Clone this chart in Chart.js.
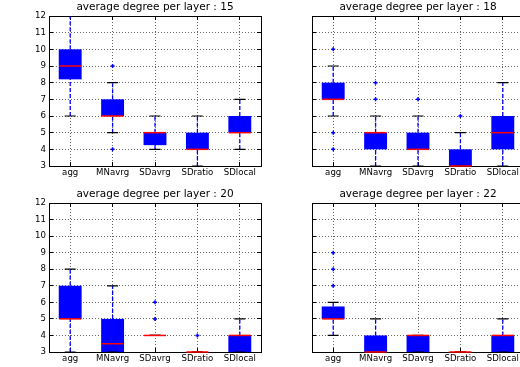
<!DOCTYPE html>
<html><head><meta charset="utf-8">
<script src="https://cdn.jsdelivr.net/npm/chart.js@4/dist/chart.umd.min.js"></script>
<style>
html,body{margin:0;padding:0;overflow:hidden;background:#fff;width:520px;height:367px;position:relative}
canvas{position:absolute}
</style></head><body>
<canvas id="c0" width="310" height="183" style="left:0px;top:0px"></canvas>
<canvas id="c1" width="310" height="183" style="left:263px;top:0px"></canvas>
<canvas id="c2" width="310" height="182" style="left:0px;top:187px"></canvas>
<canvas id="c3" width="310" height="182" style="left:263px;top:187px"></canvas>
<script>
// ---- data ----
const categories = ['agg', 'MNavrg', 'SDavrg', 'SDratio', 'SDlocal'];
const titles = ['average degree per layer : 15', 'average degree per layer : 18',
                'average degree per layer : 20', 'average degree per layer : 22'];
const yMin = 3, yMax = 12, yStep = 1;

// layer 15
const q1_15 = [8.2, 6, 4.25, 4, 5];
const q3_15 = [10, 7, 5, 5, 6];
const median_15 = [9, 6, 5, 4, 5];
const whiskerLow_15 = [6, 5, 4, 3, 4];
const whiskerHigh_15 = [12, 8, 6, 6, 7];
const fliers_15 = [[], [9, 4], [], [], []];

// layer 18
const q1_18 = [7, 4, 4, 3, 4];
const q3_18 = [8, 5, 5, 4, 6];
const median_18 = [7, 5, 4, 3, 5];
const whiskerLow_18 = [6, 3, 3, 3, 3];
const whiskerHigh_18 = [9, 6, 6, 5, 8];
const fliers_18 = [[10, 5, 4], [8, 7], [7], [6], []];

// layer 20
const q1_20 = [5, 3, 4, 3, 3];
const q3_20 = [7, 5, 4, 3, 4];
const median_20 = [5, 3.5, 4, 3, 4];
const whiskerLow_20 = [3, 3, 4, 3, 3];
const whiskerHigh_20 = [8, 7, 4, 3, 5];
const fliers_20 = [[], [], [5, 6], [4], []];

// layer 22
const q1_22 = [5, 3, 3, 3, 3];
const q3_22 = [5.75, 4, 4, 3, 4];
const median_22 = [5, 3, 4, 3, 4];
const whiskerLow_22 = [4, 3, 3, 3, 3];
const whiskerHigh_22 = [6, 5, 4, 3, 5];
const fliers_22 = [[9, 8, 7], [], [], [], []];

// ---- build ----
const panels = [
  {id: 'c0', title: titles[0], q1: q1_15, q3: q3_15, med: median_15, lo: whiskerLow_15, hi: whiskerHigh_15, fl: fliers_15, yLabels: true},
  {id: 'c1', title: titles[1], q1: q1_18, q3: q3_18, med: median_18, lo: whiskerLow_18, hi: whiskerHigh_18, fl: fliers_18, yLabels: false},
  {id: 'c2', title: titles[2], q1: q1_20, q3: q3_20, med: median_20, lo: whiskerLow_20, hi: whiskerHigh_20, fl: fliers_20, yLabels: true},
  {id: 'c3', title: titles[3], q1: q1_22, q3: q3_22, med: median_22, lo: whiskerLow_22, hi: whiskerHigh_22, fl: fliers_22, yLabels: false}
];

const FONT = 'DejaVu Sans';
const GRID = {color: 'rgba(0,0,0,0.6)', lineWidth: 1, tickLength: -4, tickColor: '#000', tickWidth: 1};

function whiskerPoints(p) {
  const pts = [];
  categories.forEach((c, i) => {
    if (p.hi[i] > p.q3[i]) pts.push({x: c, y: p.q3[i]}, {x: c, y: p.hi[i]}, {x: c, y: null});
    if (p.lo[i] < p.q1[i]) pts.push({x: c, y: p.lo[i]}, {x: c, y: p.q1[i]}, {x: c, y: null});
  });
  return pts;
}

function makeChart(p) {
  const boxes = categories.map((c, i) => [p.q1[i], p.q3[i]]);
  const caps = [];
  categories.forEach((c, i) => { caps.push({x: c, y: p.lo[i]}, {x: c, y: p.hi[i]}); });
  const meds = categories.map((c, i) => ({x: c, y: p.med[i]}));
  const fls = [];
  categories.forEach((c, i) => p.fl[i].forEach(v => fls.push({x: c, y: v})));

  new Chart(document.getElementById(p.id), {
    type: 'bar',
    data: {
      labels: categories,
      datasets: [
        {type: 'line', label: 'median', data: meds, showLine: false, pointStyle: 'line',
         pointRadius: 11, pointBorderColor: '#ff0000', pointBorderWidth: 1.5, order: 0, clip: false},
        {type: 'line', label: 'fliers', data: fls, showLine: false, pointStyle: 'cross',
         pointRadius: 2, pointBorderColor: '#0000ff', pointBorderWidth: 1.5, order: 1},
        {type: 'line', label: 'caps', data: caps, showLine: false, pointStyle: 'line',
         pointRadius: 5.5, pointBorderColor: '#000', pointBorderWidth: 1.2, order: 2},
        {type: 'line', label: 'whiskers', data: whiskerPoints(p), borderColor: '#0000ff',
         borderWidth: 1.3, borderDash: [4, 2], pointRadius: 0, spanGaps: false, tension: 0, order: 3},
        {type: 'bar', label: 'box', data: boxes, backgroundColor: '#0000ff', borderWidth: 0,
         barPercentage: 0.54, categoryPercentage: 1, order: 4}
      ]
    },
    options: {
      responsive: false,
      animation: false,
      events: [],
      layout: {padding: 0},
      plugins: {
        legend: {display: false},
        tooltip: {enabled: false},
        title: {display: true, text: p.title, color: '#000',
                font: {family: FONT, size: 10.5, weight: 'normal', lineHeight: 1.2},
                padding: {top: 1, bottom: 2.4}}
      },
      scales: {
        x: {type: 'category', position: 'bottom', offset: true,
            grid: Object.assign({offset: false}, GRID),
            border: {color: '#000', width: 1, dash: [1, 2]},
            ticks: {color: '#000', font: {family: FONT, size: 8.6}, padding: 6, maxRotation: 0, autoSkip: false},
            afterFit: s => { s.height = 17; }},
        x2: {type: 'category', position: 'top', labels: categories, offset: true,
             grid: Object.assign({offset: false, drawOnChartArea: false}, GRID),
             border: {color: '#000', width: 1},
             ticks: {display: false},
             afterFit: s => { s.height = 0; }},
        y: {type: 'linear', position: 'left', min: yMin, max: yMax,
            grid: GRID,
            border: {color: '#000', width: 1, dash: [1, 2]},
            ticks: {display: p.yLabels, stepSize: yStep, color: '#000', font: {family: FONT, size: 8.6}, padding: 7},
            afterFit: s => { s.width = 49; }},
        y2: {type: 'linear', position: 'right', min: yMin, max: yMax,
             grid: Object.assign({drawOnChartArea: false}, GRID),
             border: {color: '#000', width: 1},
             ticks: {display: false, stepSize: yStep},
             afterFit: s => { s.width = 49; }}
      }
    }
  });
}
panels.forEach(makeChart);
</script>
</body></html>
